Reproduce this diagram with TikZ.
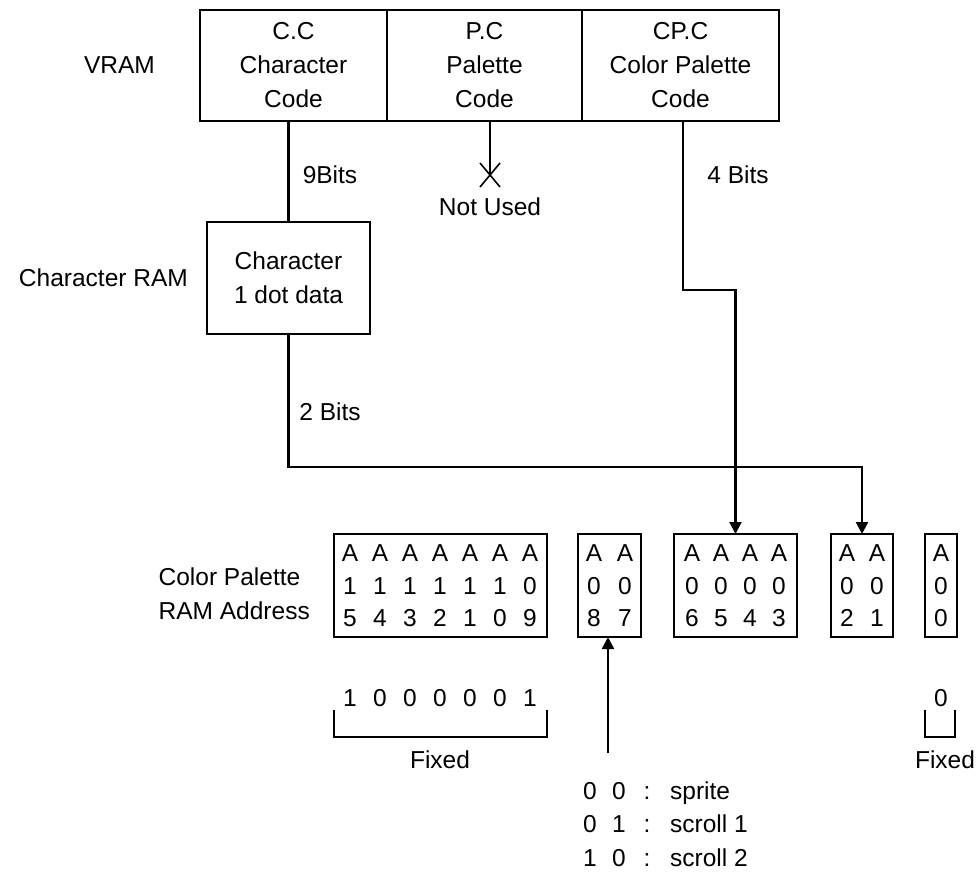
\documentclass[tikz,border=0pt]{standalone}
\usepackage{fontspec}
\setmainfont{Liberation Sans}
\usetikzlibrary{positioning, arrows.meta}

\tikzset{
    box/.style={draw, line width=2.2pt, inner sep=0pt, outer sep=0pt, align=center},
    txt/.style={inner sep=0pt, align=center},
    wire/.style={line width=2.2pt},
}

\begin{document}
\begin{tikzpicture}[x=1pt, y=-1pt, >={Triangle[length=12pt,width=12pt]},
    font=\fontsize{24.5}{34}\selectfont]
    \useasboundingbox (0,0) rectangle (977,872);

    % VRAM
    \node[box, minimum width=187pt, minimum height=111pt] (cc) at (293.5,65.5) {C.C\\Character\\Code};
    \node[box, minimum width=195pt, minimum height=111pt] (pc) at (484.5,65.5) {P.C\\Palette\\Code};
    \node[box, minimum width=197pt, minimum height=111pt] (cpc) at (680.5,65.5) {CP.C\\Color Palette\\Code};
    \node[txt, left=45pt of cc] (vram) {VRAM};

    % Character RAM
    \node[box, minimum width=163pt, minimum height=112pt] (chr) at (288.5,278) {Character\\1 dot data};
    \node[txt, left=19pt of chr] (chrram) {Character RAM};

    % Color palette RAM address
    \node[box, minimum width=213pt, minimum height=103pt] (b1) at (440.5,585.5) {};
    \node[box, minimum width=63pt, minimum height=103pt] (b2) at (609.5,585.5) {};
    \node[box, minimum width=123pt, minimum height=103pt] (b3) at (735.5,585.5) {};
    \node[box, minimum width=62pt, minimum height=103pt] (b4) at (862,585.5) {};
    \node[box, minimum width=32pt, minimum height=103pt] (b5) at (941,585.5) {};
    \node[txt, align=left, left=24pt of b1, yshift=-8pt] (cpram) {Color Palette\\RAM Address};

    \foreach \cx/\hi/\lo in {350/1/5, 380/1/4, 410/1/3, 440/1/2, 470/1/1, 500/1/0, 530/0/9,
                             594/0/8, 625/0/7,
                             692/0/6, 721/0/5, 750/0/4, 779/0/3,
                             847/0/2, 877/0/1,
                             941/0/0} {
        \node[txt] (a\hi\lo) at (\cx,553) {A};
        \node[txt] (h\hi\lo) at (\cx,586) {\hi};
        \node[txt] (l\hi\lo) at (\cx,618) {\lo};
    }

    % bit width labels
    \node[txt] (nine) at (330,175) {9Bits};
    \node[txt] (four) at (738,175) {4 Bits};
    \node[txt] (two) at (330,412) {2 Bits};

    % connections
    \draw[wire] (chr.north) -- (chr.north |- cc.south);

    \coordinate (nu) at (490,175);
    \draw[wire] (nu |- pc.south) -- (nu);
    \draw[line width=1.6pt] (nu) ++(-10,-12) -- ++(20,24);
    \draw[line width=1.6pt] (nu) ++(-10,12) -- ++(20,-24);
    \node[txt] (notused) at (490,207) {Not Used};

    \coordinate (k4) at (683,290);
    \draw[wire, ->] (k4 |- cpc.south) -- (k4) -| (b3.north);

    \coordinate (k2) at (0,467);
    \draw[wire, ->] (chr.south) -- (chr.south |- k2) -| (b4.north);

    % fixed bits
    \foreach \cx/\d in {350/1, 380/0, 410/0, 440/0, 470/0, 500/0, 530/1}
        \node[txt] (f\cx) at (\cx,698) {\d};
    \draw[wire] (b1.south west) ++(0,73) -- ++(0,27) -- ++(213,0) -- ++(0,-27);
    \node[txt] (fixa) at (440,760) {Fixed};

    \node[txt] (f941) at (941,698) {0};
    \draw[wire] (925,710) -- (925,737) -- (955,737) -- (955,710);
    \node[txt] (fixb) at (945,760) {Fixed};

    % selector
    \coordinate (sel) at (608,753);
    \draw[wire, ->] (sel) -- (sel |- b2.south);
    \foreach \r/\p/\q/\t in {799/0/0/sprite, 832/0/1/scroll 1, 866/1/0/scroll 2} {
        \node[txt, anchor=base] (p\r) at (590,\r) {\p};
        \node[txt, anchor=base] (q\r) at (619,\r) {\q};
        \node[txt, anchor=base] (c\r) at (647,\r) {:};
        \node[txt, anchor=base west] (t\r) at (670,\r) {\t};
    }
\end{tikzpicture}
\end{document}
